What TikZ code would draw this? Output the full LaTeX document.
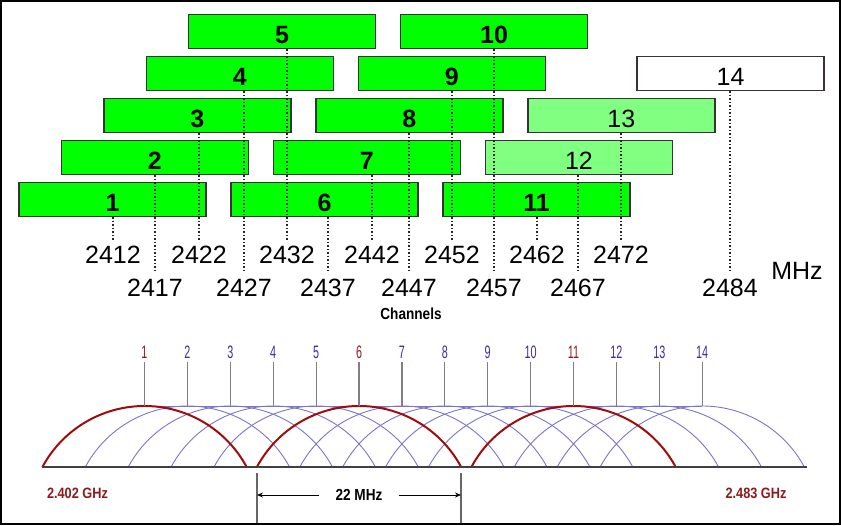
\documentclass[tikz,border=0pt]{standalone}
\usepackage{fontspec}
\setmainfont{Liberation Sans}
\newfontfamily\condfont[FakeStretch=0.85]{Liberation Sans}
\newfontfamily\slimfont[FakeStretch=0.6]{Liberation Sans}
\usetikzlibrary{arrows.meta,positioning}
\definecolor{chgreen}{HTML}{00FF00}
\definecolor{chlight}{HTML}{80FF80}
\definecolor{boxline}{HTML}{3A303A}
\definecolor{arcblue}{HTML}{7C74C8}
\definecolor{arcred}{HTML}{A00C0C}
\definecolor{lblblue}{HTML}{3A2E9E}
\definecolor{lblred}{HTML}{8E1B1B}

\begin{document}
\begin{tikzpicture}[x=1pt, y=-1pt,
  chbox/.style={draw=boxline, line width=1.4pt, minimum width=187pt,
    minimum height=34pt, inner sep=0pt, text height=24pt, text depth=0pt},
  freq/.style={font=\fontsize{25}{25}\selectfont, inner xsep=1pt, inner ysep=6pt},
  cline/.style={line width=1.5pt, dash pattern=on 1.5pt off 2pt, black!85},
  bluearc/.style={arcblue, line width=0.9pt},
  redarc/.style={arcred, line width=2pt},
  stem/.style={gray, line width=1.2pt},
  chnum/.style={font=\slimfont\fontsize{18}{18}\selectfont, inner sep=3pt},
  ghz/.style={font=\condfont\bfseries\fontsize{15}{15}\selectfont, text=lblred},
  dimarr/.style={-{Stealth[length=6pt,width=5pt]}, line width=0.8pt},
  dimline/.style={gray!80!black, line width=1.2pt}
]

% Frame
\useasboundingbox (0,0) rectangle (841,525);
\draw[line width=1.8pt] (0.9,0.9) rectangle (839.6,523.6);

% Channel blocks and centre frequencies
\foreach \n/\bx/\by/\col/\wt/\fx/\fy/\f in {
  1/112.5/199.5/chgreen/\bfseries/113/255/2412,
  2/154.9/157.5/chgreen/\bfseries/155/288/2417,
  3/197.3/115.5/chgreen/\bfseries/199/255/2422,
  4/239.7/73.5/chgreen/\bfseries/244/288/2427,
  5/282.1/31.5/chgreen/\bfseries/287/255/2432,
  6/324.5/199.5/chgreen/\bfseries/328/288/2437,
  7/366.9/157.5/chgreen/\bfseries/372/255/2442,
  8/409.3/115.5/chgreen/\bfseries/409/288/2447,
  9/451.7/73.5/chgreen/\bfseries/452/255/2452,
  10/494.1/31.5/chgreen/\bfseries/494/288/2457,
  11/536.5/199.5/chgreen/\bfseries/537/255/2462,
  12/578.9/157.5/chlight/\mdseries/578/288/2467,
  13/621.3/115.5/chlight/\mdseries/621/255/2472,
  14/730.5/73.5/white/\mdseries/730/288/2484}{
  \node[chbox, fill=\col, font={\fontsize{25}{25}\selectfont\wt}] (ch-\n) at (\bx,\by) {\n};
  \node[freq] (fq-\n) at (\fx,\fy) {\f};
}

% Centre lines
\foreach \n in {1,...,14}
  \draw[cline] (ch-\n.south -| fq-\n.north) -- (fq-\n.north);

\node[freq] (unit) at (797,271) {MHz};
\node[font=\condfont\bfseries\fontsize{16}{16}\selectfont] (chan) at (411,314) {Channels};

% Spectrum overlap
\foreach \n in {1,...,14} {
  \pgfmathsetmacro\cx{144.5+42.9*(\n-1)}
  \coordinate (top-\n) at (\cx,406);
}
\foreach \n in {2,3,4,5,7,8,9,10,12,13,14}
  \draw[bluearc] ([xshift=-102.1pt, yshift=-61pt]top-\n)
    arc[start angle=151.7, end angle=28.3, radius=116pt];
\draw[bluearc] (top-1) -- (top-14);
\foreach \n in {1,6,11}
  \draw[redarc] ([xshift=-102.1pt, yshift=-61pt]top-\n)
    arc[start angle=151.7, end angle=28.3, radius=116pt];

\coordinate (bl) at (42.4,467);
\coordinate (br) at (806.6,467);
\draw[black!75, line width=1.5pt] (bl) -- (br);

% Channel markers
\foreach \n/\c in {1/lblred,2/lblblue,3/lblblue,4/lblblue,5/lblblue,
  6/lblred,7/lblblue,8/lblblue,9/lblblue,10/lblblue,11/lblred,
  12/lblblue,13/lblblue,14/lblblue}{
  \node[chnum, text=\c, above=0pt of top-\n, yshift=44pt] (lbl-\n) {\n};
  \draw[stem] (lbl-\n.south) -- (top-\n);
}

\node[ghz] (fmin) at (77.5,493) {2.402 GHz};
\node[ghz] (fmax) at (756,493) {2.483 GHz};

% 22 MHz span
\coordinate (dim-l) at (257,473);
\coordinate (dim-lb) at (257,523);
\coordinate (dim-r) at (461,473);
\coordinate (dim-rb) at (461,523);
\draw[dimline] (dim-l) -- (dim-lb);
\draw[dimline] (dim-r) -- (dim-rb);
\node[font=\condfont\bfseries\fontsize{16}{16}\selectfont, inner xsep=16pt] (span) at (359,495) {22 MHz};
\draw[dimarr] (span.west) -- (span.west -| dim-l);
\draw[dimarr] (span.east) -- (span.east -| dim-r);

\end{tikzpicture}
\end{document}
